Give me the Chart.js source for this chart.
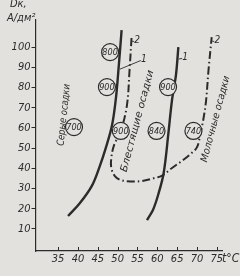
<!DOCTYPE html>
<html>
<head>
<meta charset="utf-8">
<script src="https://cdn.jsdelivr.net/npm/chart.js@4.4.1/dist/chart.umd.min.js"></script>
<style>
  html, body { margin: 0; padding: 0; background: #e3e1de; }
  canvas { display: block; }
</style>
</head>
<body>
<canvas id="chart" width="240" height="276"></canvas>
<script>
// axis ticks
const xTicks = [35, 40, 45, 50, 55, 60, 65, 70, 75];
const yTicks = [10, 20, 30, 40, 50, 60, 70, 80, 90, 100];

// curve 1 (left), t °C / Dк A/дм²
const curve1aT = [37.5, 40.5, 43.5, 45.5, 47.0, 48.6, 49.6, 50.3, 51.0];
const curve1aD = [16.4, 22.8, 31.3, 41.1, 50.0, 61.4, 75.3, 91.1, 108.4];

// curve 1 (middle)
const curve1bT = [57.4, 58.9, 60.2, 61.6, 62.8, 63.7, 64.7, 65.3];
const curve1bD = [14.4, 19.4, 26.8, 37.7, 57.5, 73.8, 86.2, 100.0];

// curve 2 (dash-dot, U shaped)
const curve2T = [53.5, 53.0, 52.35, 50.8, 49.1, 48.4, 48.4, 49.3, 50.8, 53.4, 56.1, 58.9, 61.2, 63.7, 66.5, 68.5, 70.0, 70.8, 71.7, 72.3, 72.9, 73.7];
const curve2D = [104.5, 88.6, 71.3, 58.5, 51.5, 45.1, 40.2, 36.2, 34.2, 33.5, 33.7, 35.0, 36.4, 40.2, 44.1, 47.3, 50.5, 56.5, 65.4, 73.8, 88.6, 104.9];

// circled numbers
const circleLabels = ['700', '800', '900', '900', '840', '900', '740'];
const circleT = [39.0, 48.1, 47.3, 50.8, 59.8, 62.7, 69.1];
const circleD = [60.4, 97.5, 80.2, 58.5, 58.5, 80.2, 58.5];

// region names
const regionNames = ['Серые осадки', 'Блестящие осадки', 'Молочные осадки'];
const regionT = [36.5, 55.0, 74.7];
const regionD = [66.4, 63.4, 64.4];

// curve tags "1" / "2" and where their leaders touch the curve
const tagText = ['2', '1', '1', '2'];
const tagT = [54.9, 56.6, 67.0, 75.1];
const tagD = [103.5, 94.1, 95.1, 103.5];
const leaderT = [53.4, 50.6, 65.4, 73.8];
const leaderD = [103.0, 89.1, 94.1, 103.0];

const ink = '#2b2b2b';
const paper = '#e3e1de';
const FONT = '"Liberation Sans Narrow", "DejaVu Sans Condensed", sans-serif';

function pts(ts, ds) {
  return ts.map((t, i) => ({ x: t, y: ds[i] }));
}

const sketch = {
  id: 'sketch',
  afterDatasetsDraw(chart) {
    const { ctx, scales: { x, y } } = chart;
    ctx.save();
    ctx.fillStyle = ink;
    ctx.strokeStyle = ink;

    // numbers inside circles
    ctx.font = 'italic 9px ' + FONT;
    ctx.textAlign = 'center';
    ctx.textBaseline = 'middle';
    circleLabels.forEach((s, i) => {
      ctx.fillText(s, x.getPixelForValue(circleT[i]), y.getPixelForValue(circleD[i]) + 0.5);
    });

    // region names along the curves
    const angles = [-84, -75, -75];
    const lengths = [62, 105, 89];
    ctx.font = 'italic 10px ' + FONT;
    regionNames.forEach((s, i) => {
      ctx.save();
      ctx.translate(x.getPixelForValue(regionT[i]), y.getPixelForValue(regionD[i]));
      ctx.rotate(angles[i] * Math.PI / 180);
      const w = ctx.measureText(s).width;
      ctx.scale(lengths[i] / w, 1);
      ctx.fillText(s, 0, 0);
      ctx.restore();
    });

    // curve tags with short leaders
    ctx.font = 'italic 10px ' + FONT;
    ctx.lineWidth = 0.9;
    tagText.forEach((s, i) => {
      const tx = x.getPixelForValue(tagT[i]);
      const ty = y.getPixelForValue(tagD[i]);
      ctx.beginPath();
      ctx.moveTo(x.getPixelForValue(leaderT[i]), y.getPixelForValue(leaderD[i]));
      ctx.lineTo(tx - 3, ty + 1.5);
      ctx.stroke();
      ctx.fillText(s, tx, ty);
    });
    ctx.restore();
  },
  afterDraw(chart) {
    const { ctx, chartArea, scales: { x } } = chart;
    ctx.save();
    ctx.strokeStyle = ink;
    ctx.fillStyle = ink;
    // x tick marks point into the plot
    ctx.lineWidth = 1;
    xTicks.forEach(v => {
      const px = Math.round(x.getPixelForValue(v)) + 0.5;
      ctx.beginPath();
      ctx.moveTo(px, chartArea.bottom);
      ctx.lineTo(px, chartArea.bottom - 4);
      ctx.stroke();
    });
    // axis titles
    ctx.textAlign = 'left';
    ctx.textBaseline = 'alphabetic';
    ctx.font = 'italic 11px ' + FONT;
    ctx.fillText('Dк,', 10, 7);
    ctx.fillText('А/дм²', 7, 21);
    ctx.font = 'italic 12px ' + FONT;
    ctx.fillText('t°C', 222, 262);
    ctx.restore();
  }
};

const lineBase = {
  type: 'line',
  borderColor: ink,
  pointRadius: 0,
  fill: false,
  tension: 0.35,
  order: 2
};

new Chart(document.getElementById('chart'), {
  type: 'line',
  data: {
    datasets: [
      Object.assign({}, lineBase, { data: pts(curve1aT, curve1aD), borderWidth: 2.4 }),
      Object.assign({}, lineBase, { data: pts(curve1bT, curve1bD), borderWidth: 2.4 }),
      Object.assign({}, lineBase, { data: pts(curve2T, curve2D), borderWidth: 2, borderDash: [8, 3, 1.5, 3] }),
      {
        type: 'scatter',
        data: pts(circleT, circleD),
        pointRadius: 8.5,
        pointBackgroundColor: paper,
        pointBorderColor: ink,
        pointBorderWidth: 1.2,
        order: 0
      }
    ]
  },
  options: {
    responsive: false,
    animation: false,
    events: [],
    layout: { padding: { top: 20, right: 18, left: 0, bottom: 0 } },
    plugins: { legend: { display: false }, tooltip: { enabled: false } },
    scales: {
      x: {
        type: 'linear',
        min: 29.3,
        max: 76.3,
        afterBuildTicks: s => { s.ticks = xTicks.map(v => ({ value: v })); },
        afterFit: s => { s.height = 25; },
        grid: { display: false, drawTicks: false },
        border: { color: ink, width: 1.2 },
        ticks: { color: ink, padding: 2, maxRotation: 0, autoSkip: false, font: { family: FONT, size: 11, style: 'italic' } }
      },
      y: {
        min: -0.9,
        max: 113.4,
        afterBuildTicks: s => { s.ticks = yTicks.map(v => ({ value: v })); },
        afterFit: s => { s.width = 35.5; },
        grid: { drawOnChartArea: false, drawTicks: true, tickLength: 4, color: ink },
        border: { color: ink, width: 1.2 },
        ticks: { color: ink, padding: 1, autoSkip: false, font: { family: FONT, size: 11, style: 'italic' } }
      }
    }
  },
  plugins: [sketch]
});
</script>
</body>
</html>
